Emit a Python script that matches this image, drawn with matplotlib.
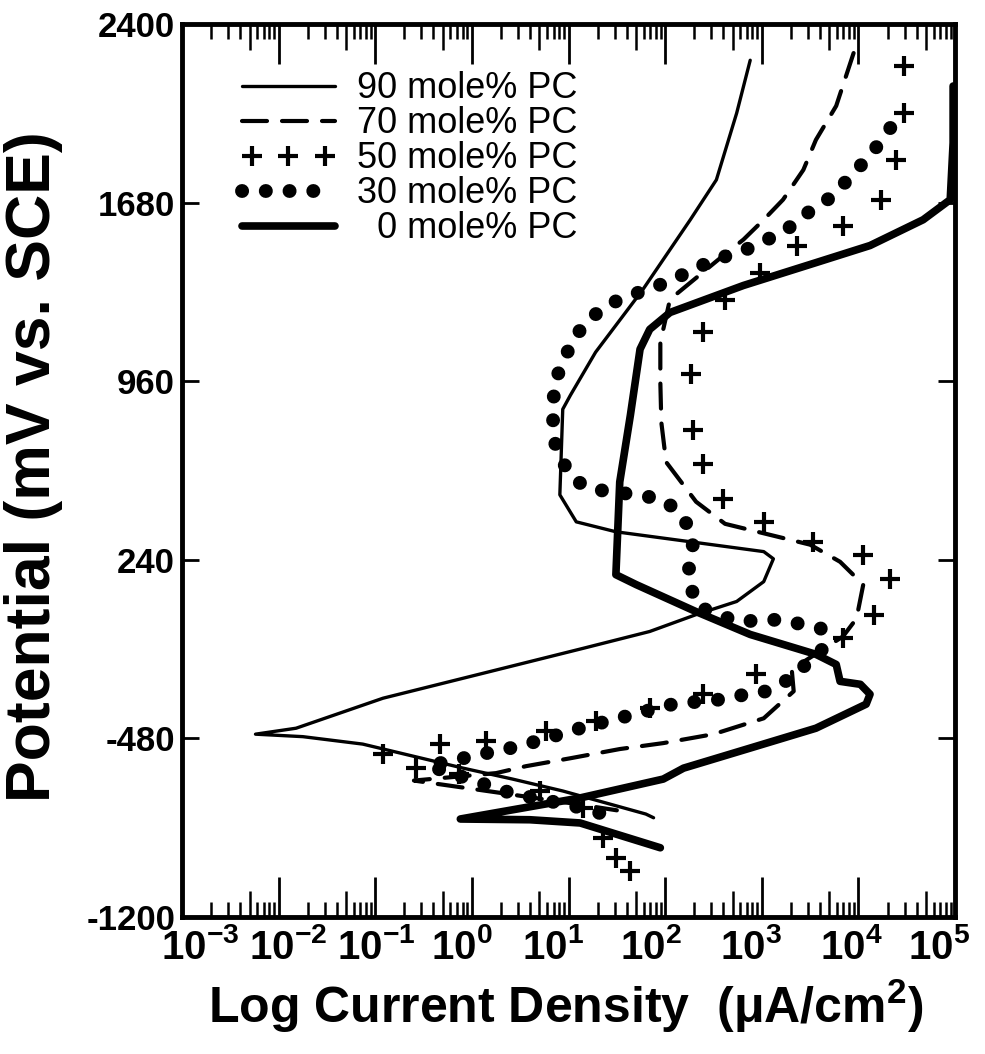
import numpy as np
import matplotlib
matplotlib.use("Agg")
import matplotlib.pyplot as plt
from matplotlib.lines import Line2D
from matplotlib.legend_handler import HandlerLine2D
from matplotlib.ticker import LogLocator, NullFormatter, NullLocator
from matplotlib.transforms import ScaledTranslation

plt.rcParams["font.family"] = ["Liberation Sans", "DejaVu Sans"]
plt.rcParams["mathtext.fontset"] = "custom"
plt.rcParams["mathtext.rm"] = "Liberation Sans:bold"
plt.rcParams["mathtext.bf"] = "Liberation Sans:bold"
plt.rcParams["mathtext.it"] = "Liberation Sans:bold"

# polarization curves: log10 of current density (uA/cm2) and potential (mV vs SCE)
logi_90 = [2.88, 2.74, 2.53, 2.26, 1.77, 1.28, 1.02, 0.94, 0.91, 1.08, 1.49, 3.02, 3.12,
           3.02, 2.74, 2.32, 1.84, 1.15, 0.11, -0.92, -1.82, -2.24, -1.75, -1.13, -0.09,
           0.42, 0.94, 1.80, 1.88]
e_90 = [2254, 2041, 1772, 1611, 1330, 1077, 904, 847, 502, 393, 353, 273, 244,
        152, 72, 19, -49, -117, -218, -318, -439, -463, -473, -503, -600,
        -644, -692, -785, -800]

logi_70 = [3.95, 3.77, 3.56, 3.43, 3.22, 3.02, 2.81, 2.60, 2.05, 1.95, 1.95, 1.96, 2.01,
           2.32, 2.62, 3.50, 3.81, 4.05, 3.98, 3.84, 3.31, 3.33, 3.02, 2.50, 1.98, 1.53,
           1.02, 0.56, 0.25, -0.60, 0.30, 1.00, 1.50]
e_70 = [2283, 2070, 1933, 1812, 1692, 1611, 1531, 1466, 1290, 1117, 956, 795, 634,
        474, 385, 301, 232, 140, 3, -69, -202, -290, -399, -463, -499, -523,
        -560, -592, -620, -650, -700, -740, -770]

logi_50 = [4.47, 4.47, 4.39, 4.23, 3.84, 3.36, 2.98, 2.62, 2.39, 2.27, 2.29, 2.39, 2.60,
           3.02, 3.53, 4.05, 4.33, 4.16, 3.84, 2.94, 2.39, 1.84, 1.28, 0.77, 0.15, -0.33,
           -0.92, -0.58, -0.13, 0.70, 1.15, 1.36, 1.49, 1.64]
e_50 = [2230, 2041, 1852, 1691, 1587, 1507, 1398, 1286, 1157, 988, 763, 626, 486,
        393, 313, 260, 164, 19, -77, -222, -302, -359, -411, -451, -491, -503,
        -543, -600, -624, -692, -760, -881, -962, -1014]

logi_30 = [4.33, 4.12, 3.95, 3.74, 3.43, 3.22, 2.98, 2.78, 2.53, 2.29, 2.08, 1.88, 1.64,
           1.39, 1.18, 1.05, 0.94, 0.87, 0.84, 0.84, 0.87, 0.94, 1.05, 1.22, 1.46, 1.70,
           1.95, 2.11, 2.26, 2.29, 2.24, 2.27, 2.34, 2.74, 3.19, 3.61, 3.66, 3.30, 3.05,
           2.84, 2.60, 2.08, 1.12, 0.50, 0.25, -0.09, -0.45, 0.40, 1.15, 1.36]
e_30 = [1981, 1869, 1800, 1708, 1627, 1559, 1519, 1479, 1454, 1410, 1370, 1338, 1306,
        1266, 1197, 1129, 1036, 968, 876, 783, 687, 634, 566, 526, 514, 502,
        486, 445, 365, 285, 192, 124, 51, -9, -1, -37, -109, -238, -290,
        -302, -322, -342, -439, -511, -531, -560, -590, -700, -761, -785]

logi_0 = [4.98, 4.98, 4.95, 4.67, 4.12, 3.56, 2.81, 2.05, 1.84, 1.74, 1.64, 1.53, 1.49,
          1.70, 2.32, 2.88, 3.56, 3.77, 3.81, 4.02, 4.12, 4.08, 3.56, 2.88, 2.19, 1.98,
          1.12, -0.12, 0.60, 1.12, 1.95]
e_0 = [2150, 1921, 1692, 1611, 1507, 1438, 1346, 1237, 1169, 1089, 823, 554, 180,
       140, 31, -61, -141, -182, -250, -262, -302, -342, -439, -519, -600, -644,
       -720, -805, -808, -821, -921]

labels = ["90 mole% PC", "70 mole% PC", "50 mole% PC", "30 mole% PC", "\u20070 mole% PC"]
y_ticks = [-1200, -480, 240, 960, 1680, 2400]
y_ticklabels = ["-1200", "-480", "240", "960", "1680", "2400"]
decades = list(range(-3, 6))
# hand-set nudges (pixels) for the decade labels along the bottom
label_shift_px = [18, 9, 1, -10, -16, -14, -11, -7, -16]

fig = plt.figure(figsize=(9.85, 10.54), dpi=100)
ax = fig.add_axes([0.1848, 0.1300, 0.7848, 0.8472])

styles = [
    dict(color="k", lw=2.4, solid_capstyle="round", solid_joinstyle="round"),
    dict(color="k", lw=3.0, dashes=(6, 3.6), dash_capstyle="round"),
    dict(color="k", ls="none", marker="+", ms=15, mew=3),
    dict(color="k", lw=10, ls=(0, (0.01, 1.7)), dash_capstyle="round"),
    dict(color="k", lw=5.5, solid_capstyle="round", solid_joinstyle="round"),
]
series = [(logi_90, e_90), (logi_70, e_70), (logi_50, e_50), (logi_30, e_30), (logi_0, e_0)]
for (lg, e), st in zip(series, styles):
    ax.plot(10.0 ** np.array(lg), e, **st)

ax.set_xscale("log")
ax.set_xlim(1e-3, 1e5)
ax.set_ylim(-1200, 2400)

ax.set_xticks([10.0 ** k for k in decades])
ax.set_xticklabels([f"$10^{{{k}}}$" for k in decades])
ax.xaxis.set_minor_locator(LogLocator(base=10, subs=[2, 3, 4, 6, 7, 8, 9], numticks=30))
ax.xaxis.set_minor_formatter(NullFormatter())
ax.tick_params(axis="x", which="major", direction="in", length=29, width=2,
               top=True, labelsize=29, pad=8)
ax.tick_params(axis="x", which="minor", direction="in", length=11, width=1.8, top=True)

# half-decade ticks sit between the minor and major lengths
for side in ("bottom", "top"):
    sec = ax.secondary_xaxis(side)
    sec.set_xticks([5 * 10.0 ** k for k in decades[:-1]])
    sec.xaxis.set_major_formatter(NullFormatter())
    sec.xaxis.set_minor_locator(NullLocator())
    sec.tick_params(direction="in", length=19, width=1.8)
    sec.spines[side].set_visible(False)

ax.set_yticks(y_ticks)
ax.set_yticklabels(y_ticklabels, fontweight="bold")
ax.tick_params(axis="y", direction="in", length=12, width=2, right=True,
               labelsize=25, pad=5)

for s in ax.spines.values():
    s.set_linewidth(3.5)

for lbl, dx in zip(ax.get_xticklabels(), label_shift_px):
    lbl.set_transform(lbl.get_transform() + ScaledTranslation(dx / 100, 0, fig.dpi_scale_trans))

handles = [Line2D([], [], **st) for st in styles]
leg = ax.legend(handles, labels, loc="upper left", bbox_to_anchor=(0.077, 0.947),
                frameon=False, fontsize=26, handlelength=2.6, handletextpad=0.6,
                labelspacing=0.0, borderpad=0, borderaxespad=0,
                handler_map={handles[2]: HandlerLine2D(numpoints=3)})

fig.text(0.034, 0.557, "Potential (mV vs. SCE)", rotation=90, ha="center",
         va="center", fontsize=45, fontweight="bold")
fig.text(0.574, 0.046, "Log Current Density  (\u03bcA/cm$^2$)", ha="center",
         va="center", fontsize=36, fontweight="bold")

fig.savefig("out.png", dpi=100)
